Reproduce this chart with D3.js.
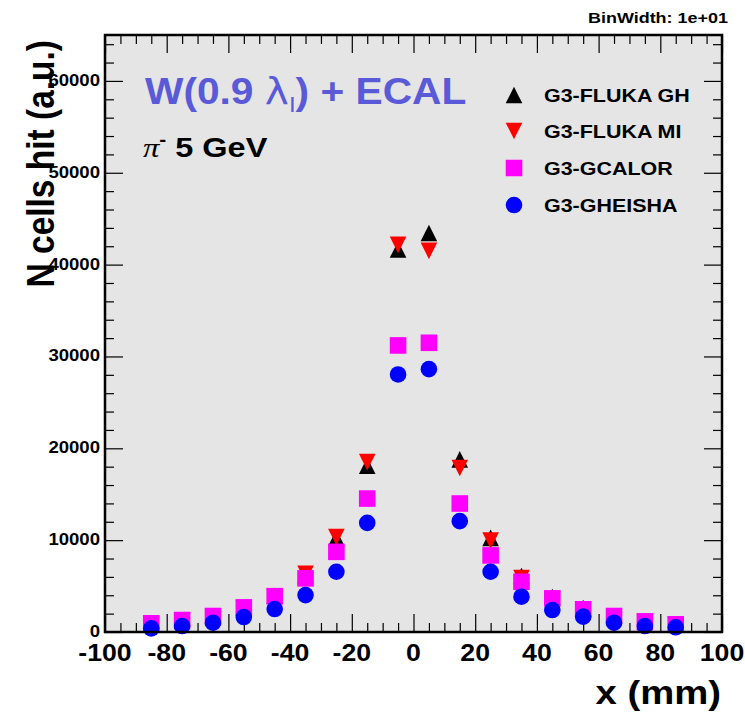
<!DOCTYPE html>
<html>
<head>
<meta charset="utf-8">
<script src="https://cdn.jsdelivr.net/npm/d3@7"></script>
<style>
  body { margin: 0; background: #ffffff; }
  text { font-family: "Liberation Sans", Arial, Helvetica, sans-serif; font-weight: bold; }
</style>
</head>
<body>
<svg id="chart" width="745" height="712"></svg>
<script>
// Lateral shower profile: number of hit cells per 10 mm bin
const binCenters = [-85, -75, -65, -55, -45, -35, -25, -15, -5, 5, 15, 25, 35, 45, 55, 65, 75, 85];
const flukaGH = [900, 1200, 1650, 2650, 3950, 6200, 10250, 18100, 41650, 43450, 18800, 10250, 6100, 3800, 2600, 1650, 1100, 800];
const flukaMI = [850, 1150, 1600, 2550, 3800, 6350, 10350, 18500, 42150, 41500, 17850, 9950, 5870, 3600, 2400, 1600, 1050, 750];
const gcalor  = [950, 1300, 1740, 2680, 3900, 5840, 8730, 14530, 31200, 31490, 13990, 8340, 5470, 3660, 2470, 1740, 1160, 840];
const gheisha = [400, 650, 1010, 1630, 2500, 4020, 6560, 11880, 28040, 28620, 12070, 6560, 3840, 2390, 1670, 1010, 650, 510];

const seriesNames = ["G3-FLUKA GH", "G3-FLUKA MI", "G3-GCALOR", "G3-GHEISHA"];
const seriesColors = ["#000000", "#ff0000", "#ff00ff", "#0000ff"];
const seriesShapes = ["triangleUp", "triangleDown", "square", "circle"];

const xMajorTicks = [-100, -80, -60, -40, -20, 0, 20, 40, 60, 80, 100];
const yMajorTicks = [0, 10000, 20000, 30000, 40000, 50000, 60000];
const xDomain = [-100, 100];
const yDomain = [0, 65000];

const SX = 1.16; // horizontal stretch of all lettering

const svg = d3.select("#chart");
const W = 745, H = 712;
const plot = { left: 105, right: 722, top: 35, bottom: 632 };

const x = d3.scaleLinear().domain(xDomain).range([plot.left, plot.right]);
const y = d3.scaleLinear().domain(yDomain).range([plot.bottom, plot.top]);

svg.append("rect").attr("width", W).attr("height", H).attr("fill", "#ffffff");
svg.append("rect")
  .attr("x", plot.left).attr("y", plot.top)
  .attr("width", plot.right - plot.left).attr("height", plot.bottom - plot.top)
  .attr("fill", "#e5e5e5");

function label(parent, str, px, py, size, anchor, sx) {
  return parent.append("text")
    .attr("transform", `translate(${px},${py}) scale(${sx || SX},1)`)
    .attr("text-anchor", anchor || "start")
    .attr("font-size", size)
    .attr("fill", "#000")
    .text(str);
}

// ---- ticks on all four sides (pointing inward) ----
const xMinor = d3.range(xDomain[0], xDomain[1] + 0.001, 5).filter(v => v % 20 !== 0);
const yMinor = d3.range(yDomain[0], yDomain[1] + 0.001, 2000).filter(v => v % 10000 !== 0);
const MAJ = 18, MIN = 9;

function styleAxis(g) {
  g.select(".domain").remove();
  g.selectAll("text").remove();
  g.selectAll("line").attr("stroke", "#000").attr("stroke-width", 1.2);
}

svg.append("g").attr("transform", `translate(0,${plot.bottom})`)
  .call(d3.axisBottom(x).tickValues(xMajorTicks).tickSize(-MAJ)).call(styleAxis);
svg.append("g").attr("transform", `translate(0,${plot.bottom})`)
  .call(d3.axisBottom(x).tickValues(xMinor).tickSize(-MIN)).call(styleAxis);
svg.append("g").attr("transform", `translate(0,${plot.top})`)
  .call(d3.axisTop(x).tickValues(xMajorTicks).tickSize(-MAJ)).call(styleAxis);
svg.append("g").attr("transform", `translate(0,${plot.top})`)
  .call(d3.axisTop(x).tickValues(xMinor).tickSize(-MIN)).call(styleAxis);
svg.append("g").attr("transform", `translate(${plot.left},0)`)
  .call(d3.axisLeft(y).tickValues(yMajorTicks).tickSize(-MAJ)).call(styleAxis);
svg.append("g").attr("transform", `translate(${plot.left},0)`)
  .call(d3.axisLeft(y).tickValues(yMinor).tickSize(-MIN)).call(styleAxis);
svg.append("g").attr("transform", `translate(${plot.right},0)`)
  .call(d3.axisRight(y).tickValues(yMajorTicks).tickSize(-MAJ)).call(styleAxis);
svg.append("g").attr("transform", `translate(${plot.right},0)`)
  .call(d3.axisRight(y).tickValues(yMinor).tickSize(-MIN)).call(styleAxis);

// ---- tick labels ----
const xl = svg.append("g");
xMajorTicks.forEach(v => label(xl, String(v), x(v), 661, 23, "middle"));
const yl = svg.append("g");
yMajorTicks.forEach(v => label(yl, String(v), plot.left - 5, y(v) + 5, 16, "end"));

// ---- markers ----
const R = 8.3;
function markerPath(shape, cx, cy) {
  if (shape === "triangleUp")
    return `M${cx - R},${cy + R}L${cx + R},${cy + R}L${cx},${cy - R}Z`;
  if (shape === "triangleDown")
    return `M${cx - R},${cy - R}L${cx + R},${cy - R}L${cx},${cy + R}Z`;
  if (shape === "square")
    return `M${cx - R},${cy - R}h${2 * R}v${2 * R}h${-2 * R}Z`;
  return `M${cx - R},${cy}a${R},${R} 0 1,0 ${2 * R},0a${R},${R} 0 1,0 ${-2 * R},0Z`;
}

const allSeries = [flukaGH, flukaMI, gcalor, gheisha];
allSeries.forEach((vals, i) => {
  svg.append("g").selectAll("path")
    .data(binCenters.map((c, j) => ({ c, v: vals[j] })))
    .join("path")
    .attr("d", d => markerPath(seriesShapes[i], x(d.c), y(d.v)))
    .attr("fill", seriesColors[i]);
});

// ---- frame ----
svg.append("rect")
  .attr("x", plot.left).attr("y", plot.top)
  .attr("width", plot.right - plot.left).attr("height", plot.bottom - plot.top)
  .attr("fill", "none").attr("stroke", "#000").attr("stroke-width", 2.5);

// ---- axis titles ----
label(svg, "x (mm)", 721, 704, 33, "end");
svg.append("text")
  .attr("transform", `translate(54,40) rotate(-90) scale(1,${SX})`)
  .attr("text-anchor", "end")
  .attr("font-size", 33.5)
  .text("N cells hit (a.u.)");

// ---- bin width note ----
label(svg, "BinWidth: 1e+01", 728, 23, 15.5, "end");

// ---- headline ----
const head = svg.append("text")
  .attr("transform", `translate(145,104) scale(1.1,1)`)
  .attr("font-size", 37)
  .attr("fill", "#5a5ad8");
head.append("tspan").text("W(0.9 ");
head.append("tspan").attr("font-weight", "normal").attr("font-family", "DejaVu Sans").text("λ");
head.append("tspan").attr("font-weight", "normal").attr("font-size", 22).attr("dy", 8).text("I");
head.append("tspan").attr("dy", -8).text(") + ECAL");

const beam = svg.append("text")
  .attr("transform", `translate(143,157) scale(${SX},1)`)
  .attr("font-size", 28);
beam.append("tspan").attr("font-weight", "normal").attr("font-family", "Liberation Serif").attr("font-style", "italic").text("π");
beam.append("tspan").attr("font-size", 18).attr("dy", -11).text("-");
beam.append("tspan").attr("dy", 11).text(" 5 GeV");

// ---- legend ----
const legend = svg.append("g");
const legendRows = [95, 131, 168, 205];
seriesNames.forEach((name, i) => {
  legend.append("path")
    .attr("d", markerPath(seriesShapes[i], 514, legendRows[i]))
    .attr("fill", seriesColors[i]);
  label(legend, name, 544, legendRows[i] + 6.5, 18.5, "start");
});
</script>
</body>
</html>
